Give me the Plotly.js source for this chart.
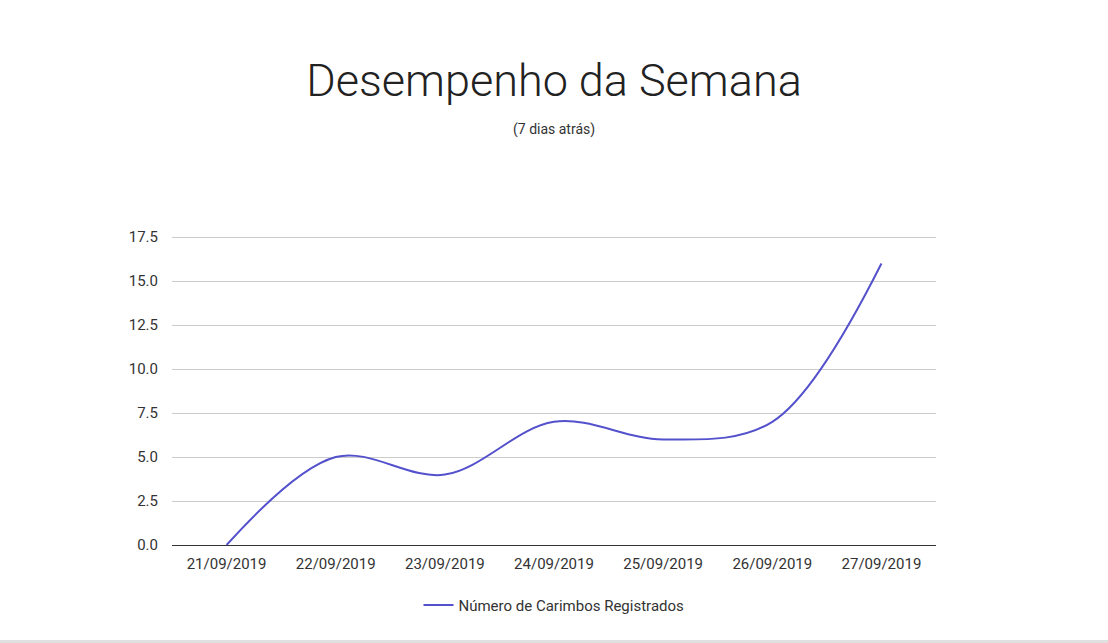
<!DOCTYPE html>
<html>
<head>
<meta charset="utf-8">
<script src="https://cdn.plot.ly/plotly-3.0.1.min.js"></script>
<style>
html,body{margin:0;padding:0;background:#fff;overflow:hidden;}
#chart{width:1108px;height:643px;}
#bar{position:absolute;left:0;top:640px;width:1108px;height:3px;background:#e0e0e0;}
</style>
</head>
<body>
<div id="chart"></div>
<div id="bar"></div>
<script>
const categories = ["21/09/2019","22/09/2019","23/09/2019","24/09/2019","25/09/2019","26/09/2019","27/09/2019"];
const carimbos = [0, 5, 4, 7, 6, 7, 16];
const seriesName = "Número de Carimbos Registrados";
const titleText = "Desempenho da Semana";
const subtitleText = "(7 dias atrás)";
const yTicks = [0, 2.5, 5, 7.5, 10, 12.5, 15, 17.5];

const trace = {
  x: categories,
  y: carimbos,
  type: 'scatter',
  mode: 'lines',
  name: seriesName,
  line: {color: '#5451cc', width: 2, shape: 'spline', smoothing: 1},
  hoverinfo: 'x+y'
};

const layout = {
  width: 1108, height: 643,
  margin: {l: 172, r: 172, t: 236, b: 98},
  paper_bgcolor: '#fff', plot_bgcolor: '#fff',
  font: {family: 'Roboto, sans-serif', color: '#444', size: 15},
  title: {
    text: titleText,
    font: {family: 'Roboto, sans-serif', size: 45, color: '#222', weight: 300},
    x: 0.5, xanchor: 'center',
    y: 1 - 80/643, yref: 'container', yanchor: 'middle'
  },
  annotations: [{
    text: subtitleText, xref: 'paper', yref: 'paper', x: 0.5, y: (545-129)/309,
    xanchor: 'center', yanchor: 'middle', showarrow: false,
    font: {family: 'Roboto, sans-serif', size: 14, color: '#333'}
  }],
  xaxis: {
    type: 'category',
    range: [-0.5, 6.5],
    showgrid: false, zeroline: false,
    showline: true, linecolor: '#333', linewidth: 1,
    ticks: '', tickfont: {size: 15, color: '#333'},
    ticklabelstandoff: 5,
    fixedrange: true
  },
  yaxis: {
    range: [0, 17.56],
    tickvals: yTicks,
    tickformat: '.1f',
    showgrid: true, gridcolor: '#cccccc', gridwidth: 1,
    zeroline: false, showline: false, ticks: '',
    ticklabelstandoff: 13,
    tickfont: {size: 15, color: '#333'},
    fixedrange: true
  },
  showlegend: true,
  legend: {
    orientation: 'h', x: 0.5, xanchor: 'center', y: -0.195, yanchor: 'middle',
    font: {size: 15, color: '#333'}
  }
};

Plotly.newPlot('chart', [trace], layout, {displayModeBar: false});
</script>
</body>
</html>
